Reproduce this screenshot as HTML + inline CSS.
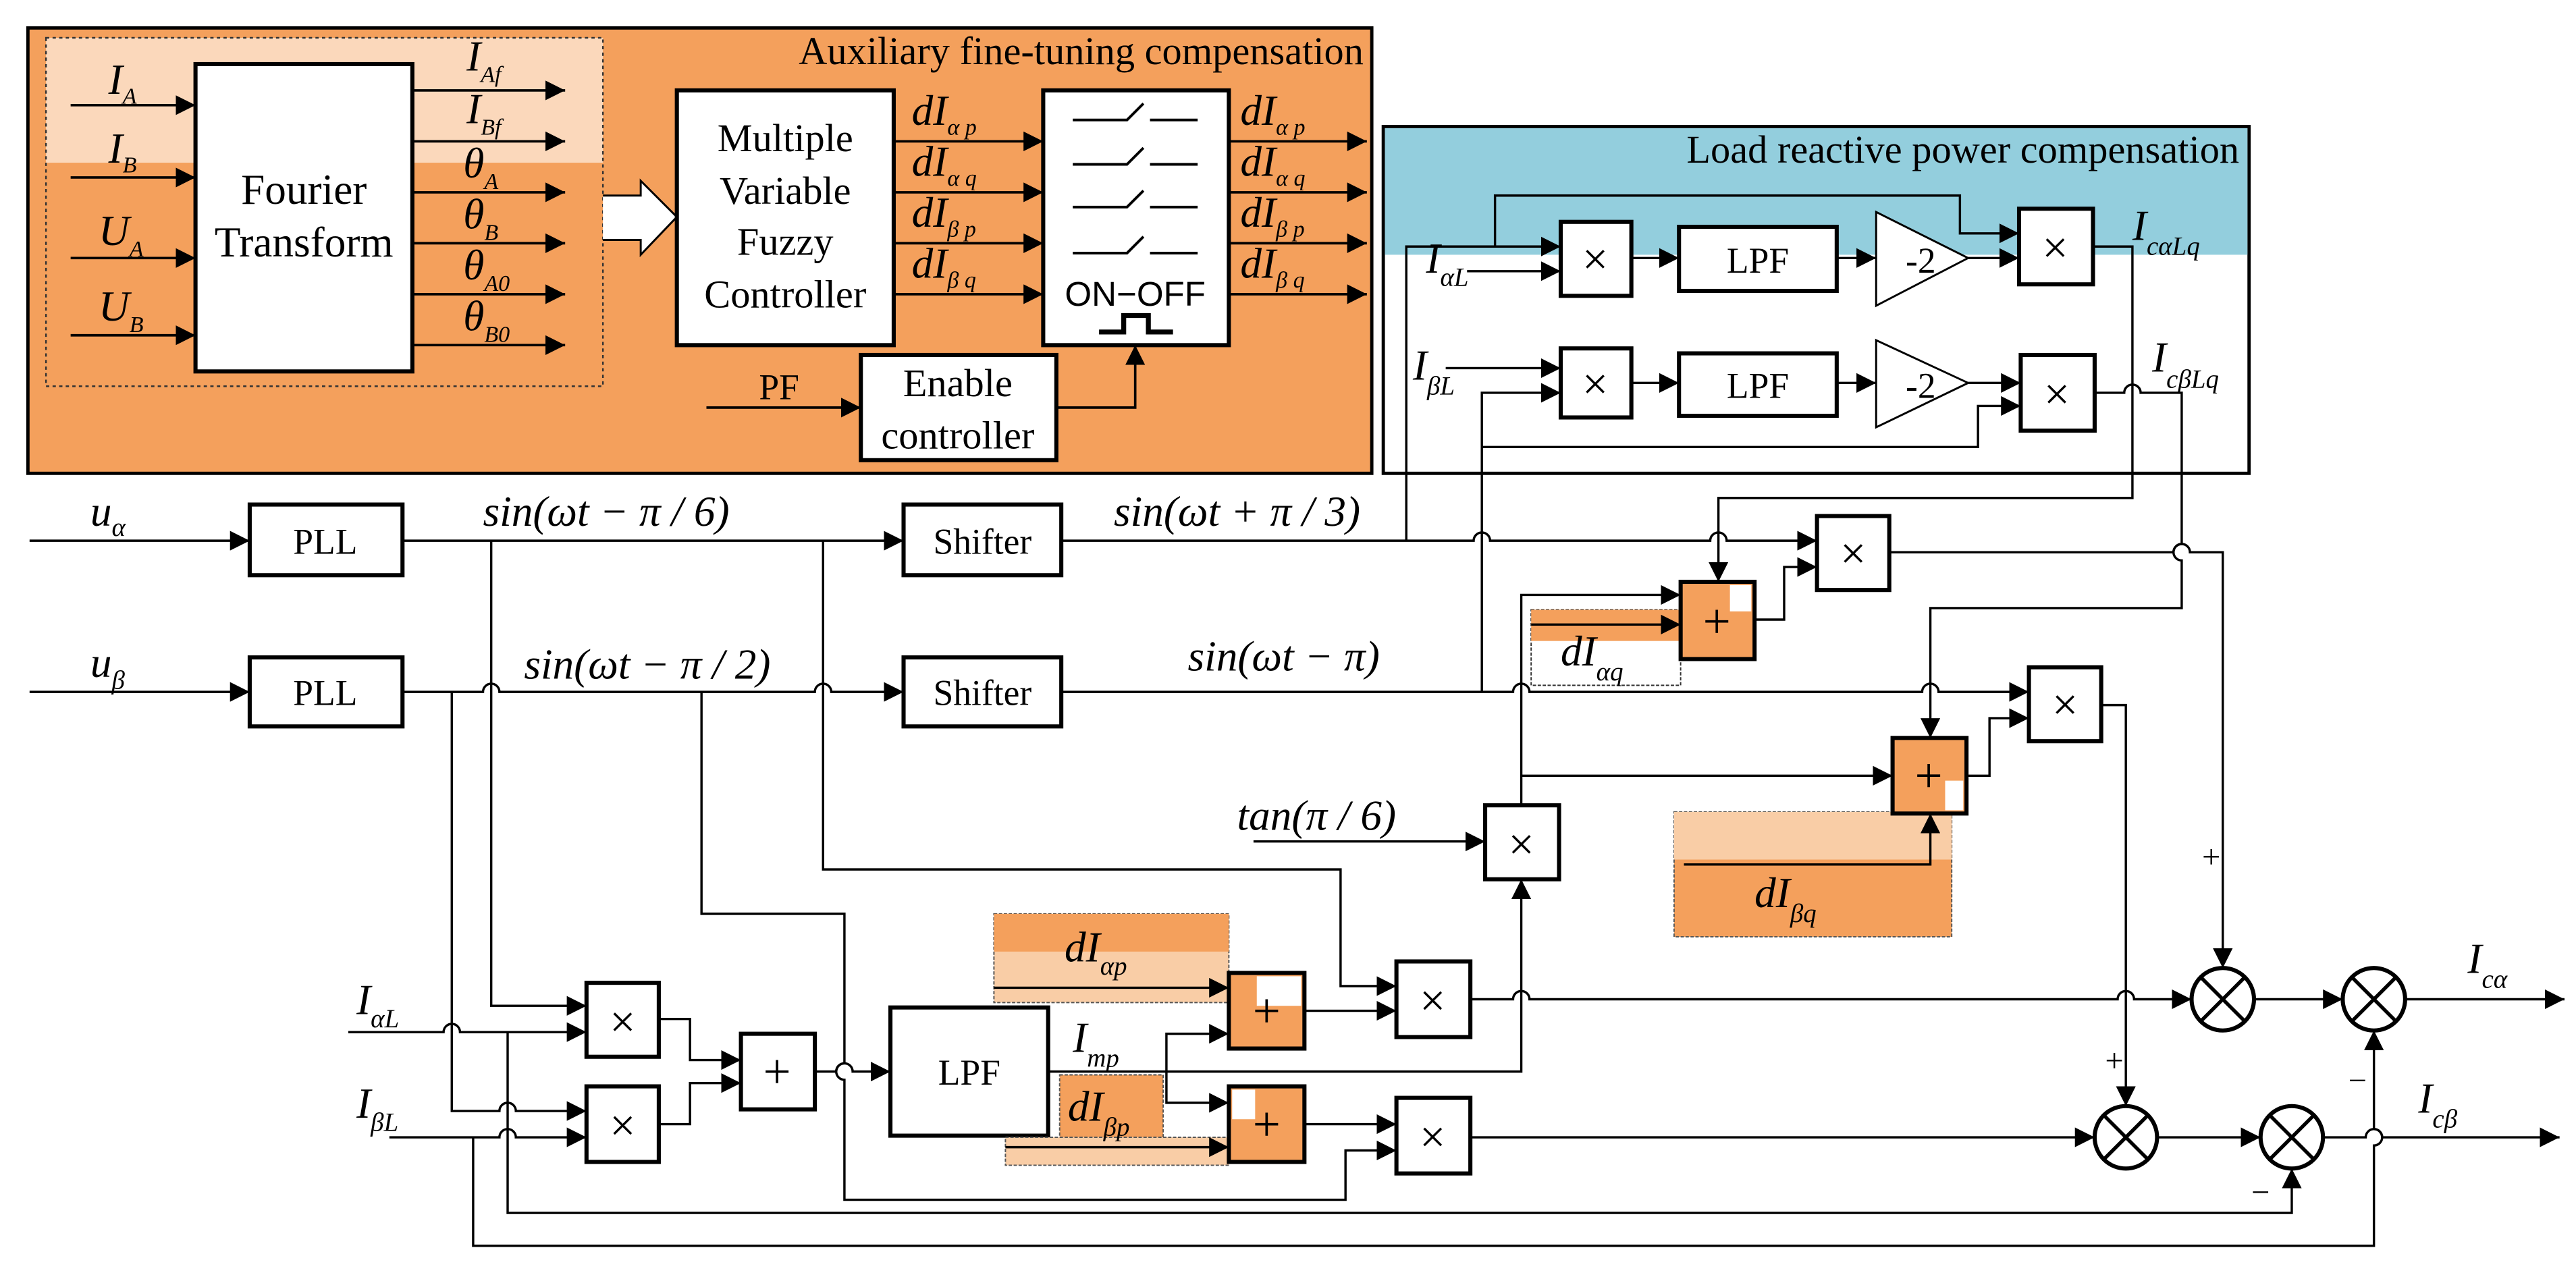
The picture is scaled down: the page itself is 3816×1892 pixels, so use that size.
<!DOCTYPE html>
<html><head><meta charset="utf-8"><style>
html,body{margin:0;padding:0;background:#fff}
svg{display:block;font-family:"Liberation Serif",serif}
svg text{font-family:"Liberation Serif",serif;fill:#000}
svg text.sans{font-family:"Liberation Sans",sans-serif}
.i{font-style:italic}
</style></head><body>
<svg width="3816" height="1892" viewBox="0 0 1568 777" preserveAspectRatio="none" xmlns="http://www.w3.org/2000/svg" font-family="Liberation Serif, serif">
<defs>
<marker id="a" viewBox="0 0 12 12" refX="12" refY="6" markerWidth="12" markerHeight="12" markerUnits="userSpaceOnUse" orient="auto"><path d="M0,0L12,6L0,12z" fill="#000"/></marker>
</defs>
<rect width="1568" height="777" fill="#fff"/>

<!-- ===== Auxiliary section ===== -->
<rect x="17" y="17" width="818" height="271" fill="#f4a05c" stroke="#000" stroke-width="2"/>
<rect x="28" y="23" width="339" height="76" fill="#fbd8bb"/>
<rect x="28" y="23" width="339" height="212" fill="none" stroke="#333" stroke-width="1" stroke-dasharray="2 2"/>
<text x="830" y="39" font-size="24" text-anchor="end">Auxiliary fine-tuning compensation</text>

<rect x="119" y="39" width="132" height="187" fill="#fff" stroke="#000" stroke-width="2.5"/>
<text x="185" y="124" font-size="26" text-anchor="middle">Fourier</text>
<text x="185" y="156" font-size="26" text-anchor="middle">Transform</text>
<g stroke="#000" stroke-width="1.5" fill="none" marker-end="url(#a)">
<path d="M43,64H119"/><path d="M43,108H119"/><path d="M43,157H119"/><path d="M43,204H119"/>
<path d="M251,55H344"/><path d="M251,86H344"/><path d="M251,117H344"/><path d="M251,148H344"/><path d="M251,179H344"/><path d="M251,210H344"/>
<path d="M544,86H635"/><path d="M544,117H635"/><path d="M544,148H635"/><path d="M544,179H635"/>
<path d="M748,86H832"/><path d="M748,117H832"/><path d="M748,148H832"/><path d="M748,179H832"/>
<path d="M430,248H524"/><path d="M643,248H691V210"/>
</g>
<g font-size="26">
<text x="66" y="57" class="i">I<tspan font-size="14" dy="6">A</tspan></text>
<text x="66" y="99" class="i">I<tspan font-size="14" dy="6">B</tspan></text>
<text x="60" y="149" class="i">U<tspan font-size="14" dy="7">A</tspan></text>
<text x="60" y="195" class="i">U<tspan font-size="14" dy="7">B</tspan></text>
<text x="284" y="43" class="i">I<tspan font-size="14" dy="7">Af</tspan></text>
<text x="284" y="75" class="i">I<tspan font-size="14" dy="7">Bf</tspan></text>
<text x="282" y="108" class="i">θ<tspan font-size="14" dy="7">A</tspan></text>
<text x="282" y="139" class="i">θ<tspan font-size="14" dy="7">B</tspan></text>
<text x="282" y="170" class="i">θ<tspan font-size="14" dy="7">A0</tspan></text>
<text x="282" y="201" class="i">θ<tspan font-size="14" dy="7">B0</tspan></text>
<text x="555" y="76" class="i">dI<tspan font-size="14" dy="6">α p</tspan></text>
<text x="555" y="107" class="i">dI<tspan font-size="14" dy="6">α q</tspan></text>
<text x="555" y="138" class="i">dI<tspan font-size="14" dy="6">β p</tspan></text>
<text x="555" y="169" class="i">dI<tspan font-size="14" dy="6">β q</tspan></text>
<text x="755" y="76" class="i">dI<tspan font-size="14" dy="6">α p</tspan></text>
<text x="755" y="107" class="i">dI<tspan font-size="14" dy="6">α q</tspan></text>
<text x="755" y="138" class="i">dI<tspan font-size="14" dy="6">β p</tspan></text>
<text x="755" y="169" class="i">dI<tspan font-size="14" dy="6">β q</tspan></text>
</g>
<path d="M367,119H390V110L412,132L390,155V146H367" fill="#fff" stroke="#000" stroke-width="1.2"/>
<rect x="412" y="55" width="132" height="155" fill="#fff" stroke="#000" stroke-width="2.5"/>
<g font-size="24" text-anchor="middle">
<text x="478" y="92">Multiple</text><text x="478" y="124">Variable</text><text x="478" y="155">Fuzzy</text><text x="478" y="187">Controller</text>
</g>
<rect x="635" y="55" width="113" height="155" fill="#fff" stroke="#000" stroke-width="2.5"/>
<g stroke="#000" stroke-width="1.6" fill="none">
<path d="M653,73H686L696,63M700,73H729"/><path d="M653,100H686L696,90M700,100H729"/>
<path d="M653,126H686L696,116M700,126H729"/><path d="M653,154H686L696,144M700,154H729"/>
<path d="M669,202H684V192H699V202H714" stroke-width="3"/>
</g>
<text x="691" y="186" font-size="21" text-anchor="middle" class="sans">ON−OFF</text>
<rect x="524" y="216" width="119" height="64" fill="#fff" stroke="#000" stroke-width="2.5"/>
<text x="583" y="241" font-size="24" text-anchor="middle">Enable</text>
<text x="583" y="273" font-size="24" text-anchor="middle">controller</text>
<text x="462" y="243" font-size="22">PF</text>

<!-- ===== Load reactive section ===== -->
<rect x="842" y="77" width="527" height="211" fill="#fff" stroke="#000" stroke-width="2"/>
<rect x="843" y="78" width="525" height="77" fill="#93cedd"/>
<text x="1363" y="99" font-size="24" text-anchor="end">Load reactive power  compensation</text>
<g fill="#fff" stroke="#000" stroke-width="2.5">
<rect x="950" y="135" width="43" height="45"/><rect x="1022" y="138" width="96" height="39"/>
<rect x="1229" y="127" width="45" height="46"/>
<rect x="950" y="212" width="43" height="42"/><rect x="1022" y="215" width="96" height="38"/>
<rect x="1230" y="216" width="45" height="46"/>
</g>
<polygon points="1142,129 1198,157 1142,186" fill="#fff" stroke="#000" stroke-width="1.2"/>
<polygon points="1142,207 1198,233 1142,260" fill="#fff" stroke="#000" stroke-width="1.2"/>
<text x="1160" y="166" font-size="22">-2</text><text x="1160" y="242" font-size="22">-2</text>
<text x="1070" y="166" font-size="22" text-anchor="middle">LPF</text>
<text x="1070" y="242" font-size="22" text-anchor="middle">LPF</text>
<g font-size="28" text-anchor="middle">
<text x="971" y="167">×</text><text x="1251" y="160">×</text>
<text x="971" y="243">×</text><text x="1252" y="249">×</text>
</g>
<g stroke="#000" stroke-width="1.4" fill="none" marker-end="url(#a)">
<path d="M856,329V150H950"/><path d="M893,165H950"/>
<path d="M910,150V119H1193V142H1229"/>
<path d="M993,157H1022"/><path d="M1118,157H1142"/><path d="M1198,157H1229"/>
<path d="M880,224H950"/><path d="M902,421V239H950"/>
<path d="M902,272H1204V247H1230"/>
<path d="M993,233H1022"/><path d="M1118,233H1142"/><path d="M1198,233H1230"/>
<path d="M1274,150H1298V303H1046V354"/>
<path d="M1275,239H1293a5,5 0 0 1 10,0H1328V331a5,5 0 0 0 0,10V370H1175V449"/>
</g>
<text x="868" y="166" font-size="26" class="i">I<tspan font-size="16" dy="8">αL</tspan></text>
<text x="860" y="231" font-size="26" class="i">I<tspan font-size="16" dy="9">βL</tspan></text>
<text x="1298" y="146" font-size="26" class="i">I<tspan font-size="16" dy="9">cαLq</tspan></text>
<text x="1310" y="226" font-size="26" class="i">I<tspan font-size="16" dy="10">cβLq</tspan></text>

<!-- ===== main ===== -->
<g fill="#fff" stroke="#000" stroke-width="2.5">
<rect x="152" y="307" width="93" height="43"/><rect x="152" y="400" width="93" height="42"/>
<rect x="550" y="307" width="96" height="43"/><rect x="550" y="400" width="96" height="42"/>
<rect x="357" y="598" width="44" height="45"/><rect x="357" y="661" width="44" height="46"/>
<rect x="451" y="629" width="45" height="46"/>
<rect x="542" y="613" width="96" height="78"/>
<rect x="850" y="585" width="45" height="46"/><rect x="850" y="668" width="45" height="46"/>
<rect x="904" y="490" width="45" height="45"/>
<rect x="1106" y="314" width="44" height="45"/>
<rect x="1235" y="406" width="44" height="45"/>
</g>
<rect x="605" y="556" width="143" height="54" fill="#f9cda6" stroke="#555" stroke-width="0.8" stroke-dasharray="2 1"/>
<rect x="605" y="556" width="143" height="23" fill="#f4a05c"/>
<rect x="645" y="654" width="63" height="38" fill="#f4a05c" stroke="#555" stroke-width="0.8" stroke-dasharray="2 1"/>
<rect x="612" y="692" width="136" height="17" fill="#f9cda6" stroke="#555" stroke-width="0.8" stroke-dasharray="2 1"/>
<rect x="932" y="371" width="91" height="46" fill="#fff" stroke="#333" stroke-width="0.8" stroke-dasharray="2 1"/>
<rect x="932" y="371" width="91" height="19" fill="#f4a05c"/>
<rect x="1019" y="494" width="169" height="76" fill="#f4a05c" stroke="#555" stroke-width="0.8" stroke-dasharray="2 1"/>
<rect x="1019" y="494" width="169" height="29" fill="#f9cda6"/>
<g stroke="#000" stroke-width="2.5">
<rect x="748" y="592" width="46" height="46" fill="#f4a05c"/>
<rect x="748" y="661" width="46" height="46" fill="#f4a05c"/>
<rect x="1023" y="354" width="45" height="47" fill="#f4a05c"/>
<rect x="1152" y="449" width="45" height="46" fill="#f4a05c"/>
</g>
<rect x="765" y="594" width="27" height="18" fill="#fff"/>
<rect x="750" y="663" width="14" height="18" fill="#fff"/>
<rect x="1053" y="356" width="13" height="16" fill="#fff"/>
<rect x="1184" y="475" width="11" height="18" fill="#fff"/>
<g font-size="30" text-anchor="middle">
<text x="771" y="625">+</text><text x="771" y="694">+</text>
<text x="1045" y="388">+</text><text x="1174" y="482">+</text>
<text x="473" y="662">+</text>
</g>
<g font-size="28" text-anchor="middle">
<text x="379" y="631">×</text><text x="379" y="694">×</text>
<text x="872" y="618">×</text><text x="872" y="701">×</text>
<text x="926" y="523">×</text><text x="1128" y="346">×</text><text x="1257" y="438">×</text>
</g>
<g font-size="22" text-anchor="middle">
<text x="198" y="337">PLL</text><text x="198" y="429">PLL</text>
<text x="598" y="337">Shifter</text><text x="598" y="429">Shifter</text>
<text x="590" y="660">LPF</text>
</g>
<g fill="#fff" stroke="#000" stroke-width="2.5">
<circle cx="1353" cy="608" r="19"/><circle cx="1445" cy="608" r="19"/>
<circle cx="1294" cy="692" r="19"/><circle cx="1395" cy="692" r="19"/>
</g>
<g stroke="#000" stroke-width="2.2">
<path d="M1340,595L1366,621M1366,595L1340,621"/><path d="M1432,595L1458,621M1458,595L1432,621"/>
<path d="M1281,679L1307,705M1307,679L1281,705"/><path d="M1382,679L1408,705M1408,679L1382,705"/>
</g>
<g stroke="#000" stroke-width="1.4" fill="none" marker-end="url(#a)">
<path d="M18,329H152"/>
<path d="M245,329H550"/>
<path d="M646,329H897a5,5 0 0 1 10,0H1041a5,5 0 0 1 10,0H1106"/>
<path d="M299,329V612H357"/>
<path d="M501,329V529H816V600H850"/>
<path d="M18,421H152"/>
<path d="M245,421H294a5,5 0 0 1 10,0H496a5,5 0 0 1 10,0H550"/>
<path d="M646,421H921a5,5 0 0 1 10,0H1170a5,5 0 0 1 10,0H1235"/>
<path d="M275,421V676H304a5,5 0 0 1 10,0H357"/>
<path d="M427,421V556H514V647a5,5 0 0 0 0,10V730H819V700H850"/>
<path d="M212,628H270a5,5 0 0 1 10,0H357"/>
<path d="M309,628V738H1395V711"/>
<path d="M237,692H304a5,5 0 0 1 10,0H357"/>
<path d="M288,692V758H1445V697a5,5 0 0 0 0,-10V627"/>
<path d="M401,620H420V645H451"/>
<path d="M401,684H420V659H451"/>
<path d="M496,652H509a5,5 0 0 1 10,0H542"/>
<path d="M638,652H926V535"/>
<path d="M710,652V629H748"/>
<path d="M710,652V671H748"/>
<path d="M605,601H748"/>
<path d="M612,698H748"/>
<path d="M794,615H850"/>
<path d="M794,684H850"/>
<path d="M895,608H921a5,5 0 0 1 10,0H1289a5,5 0 0 1 10,0H1334"/>
<path d="M895,692H1275"/>
<path d="M1372,608H1426"/>
<path d="M1464,608H1561"/>
<path d="M1313,692H1376"/>
<path d="M1414,692H1440a5,5 0 0 1 10,0H1558"/>
<path d="M763,512H904"/>
<path d="M926,490V362H1023"/>
<path d="M926,472H1152"/>
<path d="M932,380H1023"/>
<path d="M1068,377H1086V345H1106"/>
<path d="M1150,336H1323a5,5 0 0 1 10,0H1353V589"/>
<path d="M1197,472H1211V437H1235"/>
<path d="M1279,429H1294V673"/>
<path d="M1025,526H1175V495"/>
</g>
<g font-size="26">
<text x="55" y="320" class="i">u<tspan font-size="16" dy="6">α</tspan></text>
<text x="55" y="412" class="i">u<tspan font-size="16" dy="7">β</tspan></text>
<text x="294" y="320" class="i">sin(ωt − π / 6)</text>
<text x="678" y="320" class="i">sin(ωt + π / 3)</text>
<text x="319" y="413" class="i">sin(ωt − π / 2)</text>
<text x="723" y="408" class="i">sin(ωt − π)</text>
<text x="753" y="505" class="i">tan(π / 6)</text>
<text x="217" y="617" class="i">I<tspan font-size="16" dy="8">αL</tspan></text>
<text x="217" y="680" class="i">I<tspan font-size="16" dy="8">βL</tspan></text>
<text x="653" y="640" class="i">I<tspan font-size="16" dy="9">mp</tspan></text>
<text x="648" y="585" class="i">dI<tspan font-size="16" dy="8">αp</tspan></text>
<text x="650" y="682" class="i">dI<tspan font-size="16" dy="9">βp</tspan></text>
<text x="950" y="405" class="i">dI<tspan font-size="16" dy="9">αq</tspan></text>
<text x="1068" y="552" class="i">dI<tspan font-size="16" dy="9">βq</tspan></text>
<text x="1502" y="592" class="i">I<tspan font-size="16" dy="9">cα</tspan></text>
<text x="1472" y="677" class="i">I<tspan font-size="16" dy="9">cβ</tspan></text>
</g>
<g font-size="20" text-anchor="middle">
<text x="1346" y="528">+</text><text x="1287" y="652">+</text>
<text x="1435" y="664">−</text><text x="1376" y="732">−</text>
</g>
</svg>
</body></html>
